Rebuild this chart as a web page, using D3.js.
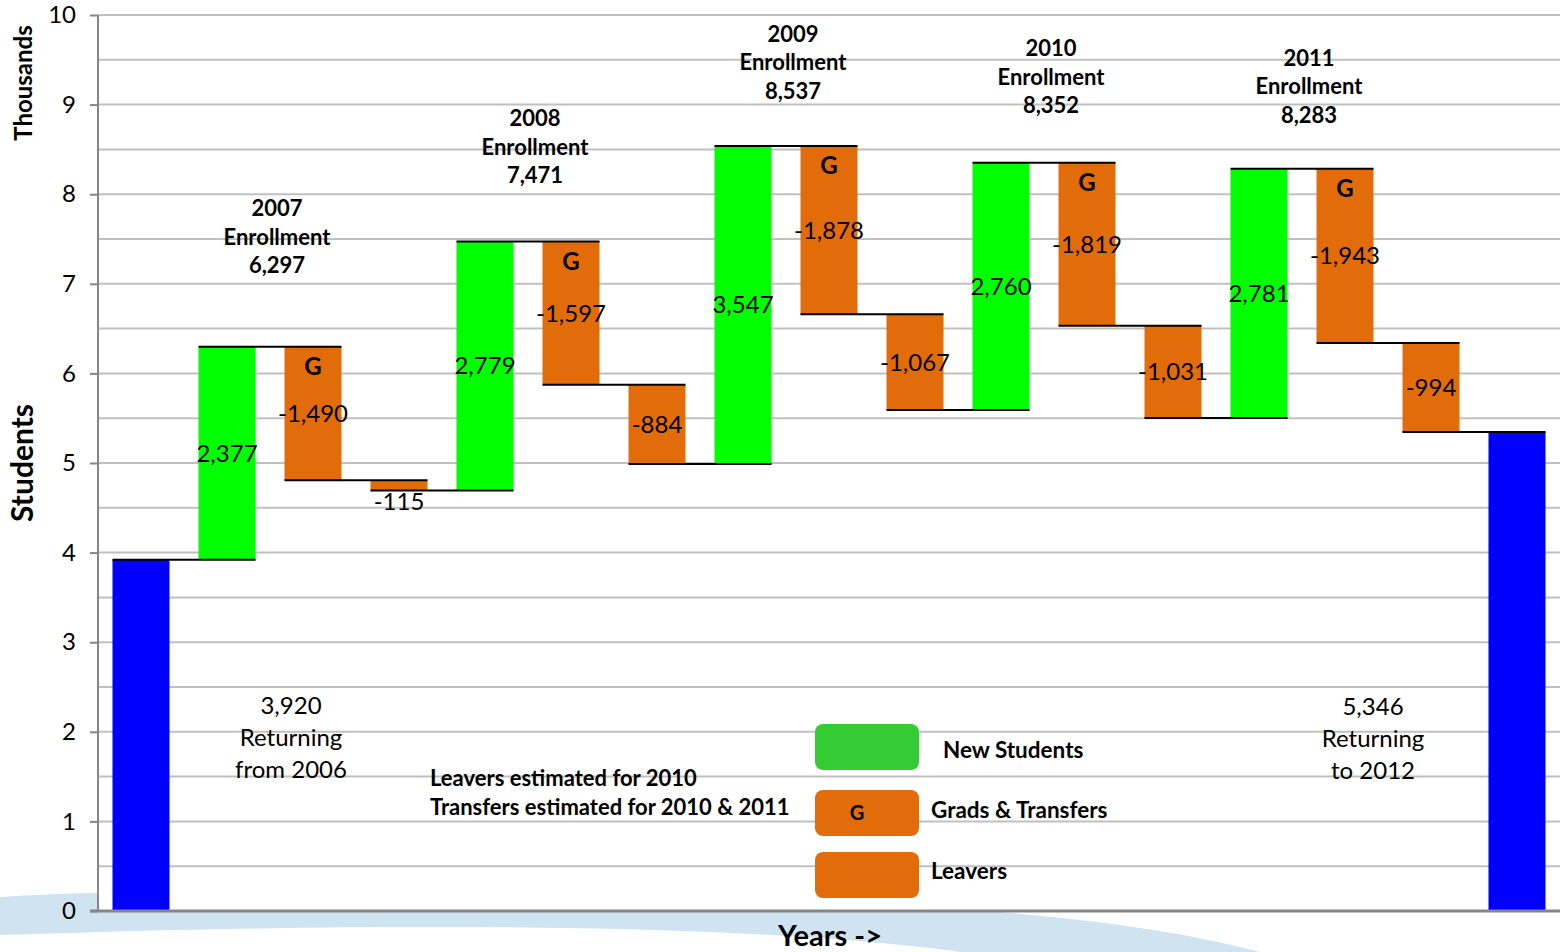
<!DOCTYPE html>
<html>
<head>
<meta charset="utf-8">
<script src="https://cdn.jsdelivr.net/npm/d3@7"></script>
<style>
  body { margin: 0; background: #fff; }
  svg text { font-family: Lato, "Open Sans", sans-serif; fill: #000; }
  .grid line { stroke: #c0c0c0; stroke-width: 2; }
  .y-axis path, .y-axis line { stroke: #868686; stroke-width: 2; }
  .y-axis text { font-size: 24px; }
  .bold { font-weight: bold; }
</style>
</head>
<body>
<div id="chart-area"></div>
<script>
// SVG Size
var width = 1560,
    height = 952;

// Data
var categories = ["2006 Returning", "2007 New", "2007 Grads", "2007 Leavers",
    "2008 New", "2008 Grads", "2008 Leavers", "2009 New", "2009 Grads", "2009 Leavers",
    "2010 New", "2010 Grads", "2010 Leavers", "2011 New", "2011 Grads", "2011 Leavers",
    "2012 Returning"];
var changes = [3920, 2377, -1490, -115, 2779, -1597, -884, 3547, -1878, -1067,
    2760, -1819, -1031, 2781, -1943, -994, 5346];
var kinds = ["total", "new", "grad", "leave", "new", "grad", "leave", "new", "grad", "leave",
    "new", "grad", "leave", "new", "grad", "leave", "total"];
var years = ["2007", "2008", "2009", "2010", "2011"];
var yTicks = [0, 1, 2, 3, 4, 5, 6, 7, 8, 9, 10];

var colors = { total: "#0000ff", "new": "#00ff00", grad: "#e36c0a", leave: "#e36c0a" };

// running totals
var bars = [];
var running = 0;
changes.forEach(function (c, i) {
    var start, end;
    if (kinds[i] == "total") {
        start = 0; end = c; running = c;
    } else {
        start = running; end = running + c; running = end;
    }
    bars.push({ cat: categories[i], kind: kinds[i], value: c, start: start, end: end });
});

var plotLeft = 98, plotTop = 15, plotBottom = 911;

var svg = d3.select("#chart-area").append("svg")
    .attr("width", width)
    .attr("height", height);

// background swoosh
svg.append("path")
    .attr("d", "M0,897 C200,884 700,890 1000,912 C1120,922 1200,936 1260,952 L960,952 C800,930 500,918 0,935 Z")
    .attr("fill", "#cfe3f0");

svg.append("rect")
    .attr("x", plotLeft).attr("y", plotTop)
    .attr("width", width - plotLeft).attr("height", plotBottom - plotTop)
    .attr("fill", "#fff");

var x = d3.scaleBand()
    .domain(categories)
    .range([plotLeft, width])
    .paddingInner(0.337)
    .paddingOuter(0.1685);

var y = d3.scaleLinear()
    .domain([0, 10000])
    .range([plotBottom, plotTop]);

// gridlines every 500
svg.append("g")
    .attr("class", "grid")
    .selectAll("line")
    .data(d3.range(500, 10001, 500))
    .enter()
    .append("line")
    .attr("x1", plotLeft).attr("x2", width)
    .attr("y1", function (d) { return y(d); })
    .attr("y2", function (d) { return y(d); });

var yAxis = d3.axisLeft()
    .scale(y)
    .tickValues(yTicks.map(function (d) { return d * 1000; }))
    .tickFormat(function (d) { return d / 1000; })
    .tickSize(8)
    .tickPadding(14);

svg.append("g")
    .attr("class", "axis y-axis")
    .attr("transform", "translate(" + plotLeft + ",0)")
    .call(yAxis)
    .call(function (g) { g.select(".domain").attr("d", "M0," + plotTop + "V" + plotBottom); });

// bars
svg.selectAll("rect.bar")
    .data(bars)
    .enter()
    .append("rect")
    .attr("class", "bar")
    .attr("x", function (d) { return x(d.cat); })
    .attr("width", x.bandwidth())
    .attr("y", function (d) { return y(Math.max(d.start, d.end)); })
    .attr("height", function (d) { return Math.abs(y(d.start) - y(d.end)); })
    .attr("fill", function (d) { return colors[d.kind]; });

// connectors
svg.selectAll("line.conn")
    .data(bars.slice(0, bars.length - 1))
    .enter()
    .append("line")
    .attr("class", "conn")
    .attr("x1", function (d) { return x(d.cat); })
    .attr("x2", function (d, i) { return x(bars[i + 1].cat) + x.bandwidth(); })
    .attr("y1", function (d) { return y(d.end); })
    .attr("y2", function (d) { return y(d.end); })
    .attr("stroke", "#000")
    .attr("stroke-width", 2);

// x axis line
svg.append("line")
    .attr("x1", plotLeft - 8).attr("x2", width)
    .attr("y1", plotBottom).attr("y2", plotBottom)
    .attr("stroke", "#868686")
    .attr("stroke-width", 3);

// value labels (plain hyphen for negatives, like the original)
var comma = d3.format(",");
function fmt(v) { return comma(v).replace("\u2212", "-"); }

svg.selectAll("text.val")
    .data(bars.filter(function (d) { return d.kind != "total"; }))
    .enter()
    .append("text")
    .attr("class", "val")
    .attr("text-anchor", "middle")
    .attr("font-size", "24px")
    .attr("x", function (d) { return x(d.cat) + x.bandwidth() / 2; })
    .attr("y", function (d) {
        if (Math.abs(d.value) < 300) return y(Math.min(d.start, d.end)) + 11;
        return y((d.start + d.end) / 2);
    })
    .attr("dy", "0.35em")
    .text(function (d) { return fmt(d.value); });

// G markers
svg.selectAll("text.g")
    .data(bars.filter(function (d) { return d.kind == "grad"; }))
    .enter()
    .append("text")
    .attr("class", "g bold")
    .attr("text-anchor", "middle")
    .attr("font-size", "24px")
    .attr("x", function (d) { return x(d.cat) + x.bandwidth() / 2; })
    .attr("y", function (d) { return y(d.start) + 28; })
    .text("G");

// enrollment labels
var labelRaise = [138, 123, 112, 114, 111];
var newBars = bars.filter(function (d) { return d.kind == "new"; });
newBars.forEach(function (d, i) {
    var cx = x(d.cat) + x.bandwidth() + (x.step() - x.bandwidth()) / 2 + 7;
    var cy = y(d.end) - labelRaise[i];
    var t = svg.append("text")
        .attr("class", "bold")
        .attr("text-anchor", "middle")
        .attr("font-size", "22px");
    [years[i], "Enrollment", fmt(d.end)].forEach(function (s, k) {
        t.append("tspan")
            .attr("x", cx)
            .attr("y", cy + k * 28.5)
            .attr("dy", "0.35em")
            .text(s);
    });
});

// returning notes
function note(lines, cx, cy) {
    var t = svg.append("text")
        .attr("text-anchor", "middle")
        .attr("font-size", "24px");
    lines.forEach(function (s, k) {
        t.append("tspan").attr("x", cx).attr("y", cy + k * 32).attr("dy", "0.35em").text(s);
    });
}
note([fmt(bars[0].end), "Returning", "from 2006"], 291, 706);
note([fmt(bars[bars.length - 1].end), "Returning", "to 2012"], 1373, 707);

svg.append("text").attr("class", "bold").attr("font-size", "22px")
    .attr("x", 430).attr("y", 778).attr("dy", "0.35em")
    .text("Leavers estimated for 2010");
svg.append("text").attr("class", "bold").attr("font-size", "22px")
    .attr("x", 430).attr("y", 807).attr("dy", "0.35em")
    .text("Transfers estimated for 2010 & 2011");

// legend
var legend = [
    { label: "New Students", color: "#33cc33", g: false, y: 724, tx: 943, ty: 26 },
    { label: "Grads & Transfers", color: "#e36c0a", g: true, y: 790, tx: 931, ty: 20 },
    { label: "Leavers", color: "#e36c0a", g: false, y: 852, tx: 931, ty: 19 }
];
legend.forEach(function (d) {
    svg.append("rect")
        .attr("x", 815).attr("y", d.y)
        .attr("width", 104).attr("height", 46)
        .attr("rx", 8)
        .attr("fill", d.color);
    if (d.g) {
        svg.append("text").attr("class", "bold").attr("font-size", "20px")
            .attr("text-anchor", "middle")
            .attr("x", 857).attr("y", d.y + 23).attr("dy", "0.35em").text("G");
    }
    svg.append("text").attr("class", "bold").attr("font-size", "22.5px")
        .attr("x", d.tx).attr("y", d.y + d.ty).attr("dy", "0.35em")
        .text(d.label);
});

// axis titles
svg.append("text")
    .attr("class", "bold")
    .attr("text-anchor", "middle")
    .attr("font-size", "24px")
    .attr("transform", "translate(24,83) rotate(-90)")
    .attr("dy", "0.35em")
    .text("Thousands");

svg.append("text")
    .attr("class", "bold")
    .attr("text-anchor", "middle")
    .attr("font-size", "30px")
    .attr("transform", "translate(22,463) rotate(-90)")
    .attr("dy", "0.35em")
    .text("Students");

svg.append("text")
    .attr("class", "bold")
    .attr("text-anchor", "middle")
    .attr("font-size", "29px")
    .attr("x", 830).attr("y", 936)
    .attr("dy", "0.35em")
    .text("Years ->");
</script>
</body>
</html>
